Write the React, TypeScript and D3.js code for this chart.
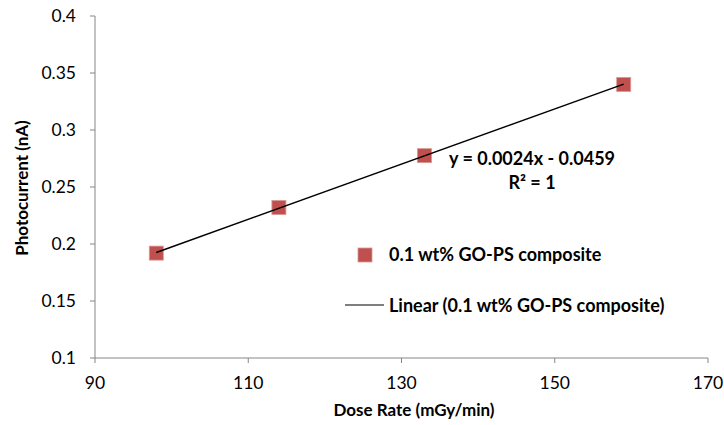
import React from "react";
import * as d3 from "d3";

const doseRate = [98, 114, 133, 159];
const photocurrent = [0.192, 0.232, 0.2775, 0.34];
const xTicks = [90, 110, 130, 150, 170];
const yTicks = [0.1, 0.15, 0.2, 0.25, 0.3, 0.35, 0.4];
const seriesName = "0.1 wt% GO-PS composite";
const trendName = "Linear (0.1 wt% GO-PS composite)";
const equationText = "y = 0.0024x - 0.0459";

const W = 724;
const H = 425;
const FONT = "Lato, 'Open Sans', sans-serif";
const AXIS = "#868686";
const MARK = "#C0504D";

export default function App() {
  const x = d3.scaleLinear().domain([90, 170]).range([95, 708]);
  const y = d3.scaleLinear().domain([0.1, 0.4]).range([358, 16]);

  const n = doseRate.length;
  const mx = d3.mean(doseRate) as number;
  const my = d3.mean(photocurrent) as number;
  let sxy = 0, sxx = 0;
  for (let i = 0; i < n; i++) {
    sxy += (doseRate[i] - mx) * (photocurrent[i] - my);
    sxx += (doseRate[i] - mx) ** 2;
  }
  const slope = sxy / sxx;
  const icpt = my - slope * mx;
  const [x0, x1] = d3.extent(doseRate) as [number, number];
  const trend = d3
    .line<number>()
    .x((d) => x(d))
    .y((d) => y(slope * d + icpt))([x0, x1]);

  const ms = 14;

  return (
    <svg
      width={W}
      height={H}
      style={{ position: "absolute", left: 0, top: 0, background: "#fff" }}
      fontFamily={FONT}
    >
      {/* axes */}
      <line x1={95} x2={95} y1={16} y2={358} stroke={AXIS} strokeWidth={1} />
      <line x1={95} x2={708} y1={358} y2={358} stroke={AXIS} strokeWidth={1} />
      {yTicks.map((t) => (
        <g key={"y" + t}>
          <line x1={90} x2={95} y1={y(t)} y2={y(t)} stroke={AXIS} />
          <text x={76} y={y(t)} dy="0.35em" textAnchor="end" fontSize={17.5} fill="#000">
            {String(t)}
          </text>
        </g>
      ))}
      {xTicks.map((t) => (
        <g key={"x" + t}>
          <line x1={x(t)} x2={x(t)} y1={358} y2={363} stroke={AXIS} />
          <text x={x(t)} y={389} textAnchor="middle" fontSize={17.5} fill="#000">
            {t}
          </text>
        </g>
      ))}

      {/* axis titles */}
      <text x={414} y={416} textAnchor="middle" fontSize={17} fontWeight="bold" fill="#000">
        Dose Rate (mGy/min)
      </text>
      <text
        transform={`translate(28,188) rotate(-90)`}
        textAnchor="middle"
        fontSize={17}
        fontWeight="bold"
        fill="#000"
      >
        Photocurrent (nA)
      </text>

      {/* markers */}
      {doseRate.map((d, i) => (
        <rect
          key={"m" + i}
          x={x(d) - ms / 2}
          y={y(photocurrent[i]) - ms / 2}
          width={ms}
          height={ms}
          fill={MARK}
          stroke="#D99694"
          strokeWidth={0.8}
        />
      ))}

      {/* trendline */}
      <path d={trend || ""} fill="none" stroke="#000" strokeWidth={1.5} />

      {/* equation */}
      <text x={532} y={165} textAnchor="middle" fontSize={18} fontWeight="bold" fill="#000">
        {equationText}
      </text>
      <text x={532} y={189} textAnchor="middle" fontSize={18} fontWeight="bold" fill="#000">
        R² = 1
      </text>

      {/* legend */}
      <rect x={365 - 7} y={255 - 7} width={14} height={14} fill={MARK} stroke="#D99694" strokeWidth={0.8} />
      <text x={389} y={261} fontSize={18} fontWeight="bold" fill="#000">
        {seriesName}
      </text>
      <line x1={345} x2={384} y1={305} y2={305} stroke="#000" strokeWidth={1.2} />
      <text x={389} y={312} fontSize={18} fontWeight="bold" fill="#000">
        {trendName}
      </text>
    </svg>
  );
}
